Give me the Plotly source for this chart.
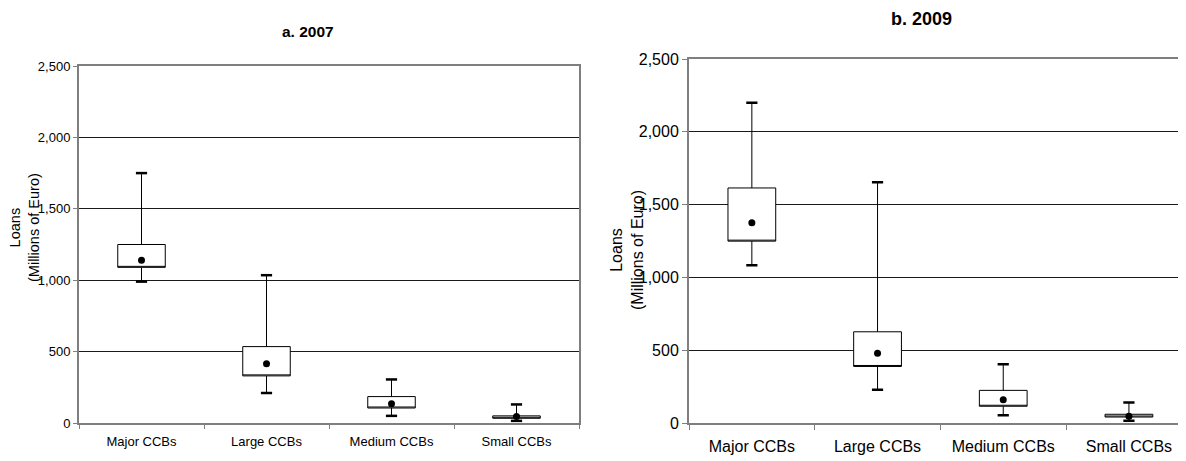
import plotly.graph_objects as go

categories = ["Major CCBs", "Large CCBs", "Medium CCBs", "Small CCBs"]

# Panel a. 2007
lower_2007 = [990, 210, 50, 15]
q1_2007 = [1090, 330, 105, 33]
q3_2007 = [1250, 535, 185, 50]
upper_2007 = [1750, 1035, 305, 130]
mean_2007 = [1140, 415, 135, 45]

# Panel b. 2009
lower_2009 = [1085, 230, 55, 18]
q1_2009 = [1250, 390, 117, 43]
q3_2009 = [1615, 628, 226, 62]
upper_2009 = [2200, 1655, 405, 143]
mean_2009 = [1377, 480, 162, 48]

y_ticks = [0, 500, 1000, 1500, 2000, 2500]

# The page body has an 8px margin, so the figure is offset by 8px
OFF = 8
W, H = 1186 - OFF, 461 - OFF
FONT = "Liberation Sans, Arial, sans-serif"


def px(x):
    return (x - OFF) / W


def py(y):
    return 1 - (y - OFF) / H


fig = go.Figure()


def add_panel(xa, ya, lower, q1, q3, upper, mean):
    fig.add_trace(go.Box(
        x=categories, q1=q1, median=q1, q3=q3,
        lowerfence=lower, upperfence=upper,
        width=0.38, whiskerwidth=0,
        fillcolor="white", line=dict(color="black", width=1),
        boxpoints=False, showlegend=False, hoverinfo="skip",
        xaxis=xa, yaxis=ya,
    ))
    fig.add_trace(go.Scatter(
        x=categories + categories, y=lower + upper, mode="markers",
        marker=dict(symbol="line-ew", size=8, line=dict(color="black", width=2.5)),
        showlegend=False, hoverinfo="skip", xaxis=xa, yaxis=ya,
    ))
    fig.add_trace(go.Scatter(
        x=categories, y=mean, mode="markers",
        marker=dict(symbol="circle", size=7, color="black"),
        showlegend=False, hoverinfo="skip", xaxis=xa, yaxis=ya,
    ))


add_panel("x", "y", lower_2007, q1_2007, q3_2007, upper_2007, mean_2007)
add_panel("x2", "y2", lower_2009, q1_2009, q3_2009, upper_2009, mean_2009)

AX = "#7f7f7f"
GRID = "#1a1a1a"

common_y = dict(range=[0, 2500], tickvals=y_ticks, tickformat=",", showgrid=True,
                gridcolor=GRID, gridwidth=1, zeroline=False, showline=True,
                linecolor=AX, linewidth=2, ticks="outside", tickcolor=AX,
                automargin=False)

fig.update_layout(
    width=W, height=H, autosize=False,
    margin=dict(l=0, r=0, t=0, b=0),
    paper_bgcolor="white", plot_bgcolor="white",
    font=dict(family=FONT, color="black"),
    xaxis=dict(domain=[px(79), px(579)], type="category", categoryarray=categories,
               range=[-0.5, 3.5], showgrid=False, showline=True, linecolor=AX,
               linewidth=2, mirror=True, ticks="outside", tickson="boundaries",
               ticklen=4, tickcolor=AX, tickfont=dict(size=13, color="black"),
               ticklabelstandoff=5, anchor="y", automargin=False),
    yaxis=dict(domain=[py(423), py(66)], ticklen=4, mirror=True,
               tickfont=dict(size=13, color="black"), anchor="x", **common_y),
    xaxis2=dict(domain=[px(689), 1.0], type="category", categoryarray=categories,
                range=[-0.5, 3.454], showgrid=False, showline=True, linecolor=AX,
                linewidth=2, mirror=True, ticks="outside", tickson="boundaries",
                ticklen=5, tickcolor=AX, tickfont=dict(size=16, color="black"),
                ticklabelstandoff=7, anchor="y2", automargin=False),
    yaxis2=dict(domain=[py(423.3), py(59)], ticklen=5,
                tickfont=dict(size=16, color="black"), anchor="x2", **common_y),
)

annotations = [
    dict(text="<b>a. 2007</b>", x=px(308), y=py(31), font=dict(size=15.5),
         xanchor="center", yanchor="middle"),
    dict(text="<b>b. 2009</b>", x=px(921), y=1.0, font=dict(size=18),
         xanchor="center", yanchor="top", borderpad=0),
    dict(text="Loans<br>(Millions of Euro)", x=px(24), y=py(228), textangle=-90,
         font=dict(size=14.5), xanchor="center", yanchor="middle"),
    dict(text="Loans<br>(Millions of Euro)", x=px(627), y=py(250), textangle=-90,
         font=dict(size=16), xanchor="center", yanchor="middle"),
]
for a in annotations:
    a.update(xref="paper", yref="paper", showarrow=False)
    a["font"].update(family=FONT, color="black")
fig.update_layout(annotations=annotations)

fig.write_html("out.html")
